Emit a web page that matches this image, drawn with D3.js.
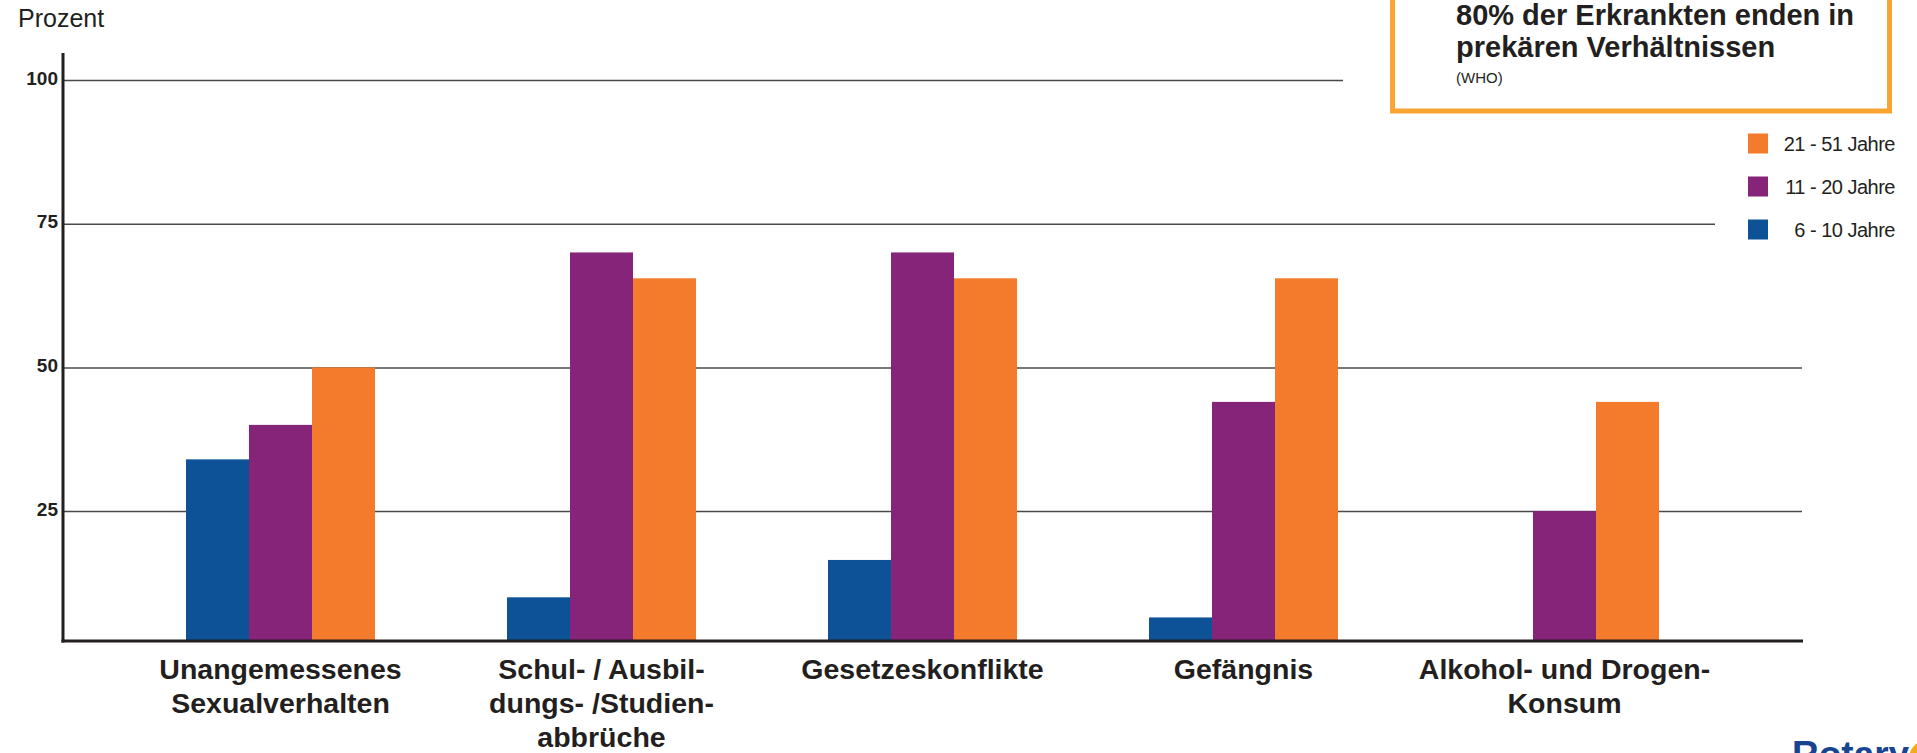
<!DOCTYPE html>
<html>
<head>
<meta charset="utf-8">
<script src="https://cdn.jsdelivr.net/npm/d3@7"></script>
<style>
    body { margin: 0; background: #fff; }
    svg { display: block; font-family: "Liberation Sans", Arial, sans-serif; }
    .tick text { font-weight: bold; font-size: 19px; fill: #231f20; }
</style>
</head>
<body>
<div id="chart"></div>
<script>
// data
var categories = [
    ["Unangemessenes", "Sexualverhalten"],
    ["Schul- / Ausbil-", "dungs- /Studien-", "abbrüche"],
    ["Gesetzeskonflikte"],
    ["Gefängnis"],
    ["Alkohol- und Drogen-", "Konsum"]
];
var seriesNames = ["6 - 10 Jahre", "11 - 20 Jahre", "21 - 51 Jahre"];
var age6to10 = [34, 10, 16.5, 6.5, 0];
var age11to20 = [40, 70, 70, 44, 25];
var age21to51 = [50, 65.5, 65.5, 65.5, 44];
var yTicks = [25, 50, 75, 100];
var noteLines = ["80% der Erkrankten enden in", "prekären Verhältnissen"];
var noteSource = "(WHO)";

var colors = ["#0d5196", "#852479", "#f47b2c"];

function drawChart() {
    let width = 1917;
    let height = 753;
    let left = 63;
    let right = 1802;
    let bottom = 641;
    let top = 80;

    var catKeys = categories.map(function (c) { return c.join(" "); });
    var allSeries = [age6to10, age11to20, age21to51];

    var rows = catKeys.map(function (k, i) {
        return {
            key: k,
            lines: categories[i],
            values: allSeries.map(function (s, j) {
                return { series: seriesNames[j], value: s[i], color: colors[j] };
            })
        };
    });

    var x0 = d3.scaleBand()
        .domain(catKeys)
        .range([57.6, 1787.4])
        .paddingInner(0.4112)
        .paddingOuter(0.4);

    var x1 = d3.scaleBand()
        .domain(seriesNames)
        .range([0, x0.bandwidth()]);

    // the original value axis starts a little above zero at the baseline
    var yScale = d3.scaleLinear()
        .domain([2.4, 100])
        .range([bottom, top]);

    var svg = d3.select("#chart")
        .append("svg")
        .attr("width", width)
        .attr("height", height);

    // gridlines
    svg.append("g")
        .attr("class", "grid")
        .attr("transform", "translate(" + left + ",0)")
        .call(d3.axisRight(yScale).tickValues(yTicks).tickSize(right - left).tickFormat(""))
        .call(function (g) { g.select(".domain").remove(); })
        .selectAll("line")
        .attr("stroke", "#4a4a4a")
        .attr("stroke-width", 1.5);

    // y tick labels
    svg.append("g")
        .attr("transform", "translate(" + (left - 5) + ",-2)")
        .call(d3.axisLeft(yScale).tickValues(yTicks).tickSize(0).tickPadding(0))
        .call(function (g) { g.select(".domain").remove(); });

    svg.append("text")
        .attr("x", 18)
        .attr("y", 27)
        .style("font-size", "25px")
        .attr("fill", "#231f20")
        .text("Prozent");

    // bars
    var groups = svg.selectAll(".group")
        .data(rows)
        .enter()
        .append("g")
        .attr("class", "group")
        .attr("transform", function (d) { return "translate(" + x0(d.key) + ",0)"; });

    groups.selectAll("rect")
        .data(function (d) { return d.values; })
        .enter()
        .append("rect")
        .attr("x", function (d) { return x1(d.series); })
        .attr("width", x1.bandwidth())
        .attr("y", function (d) { return Math.min(bottom, yScale(d.value)); })
        .attr("height", function (d) { return Math.max(0, bottom - yScale(d.value)); })
        .attr("fill", function (d) { return d.color; });

    // axes lines
    svg.append("line")
        .attr("x1", left).attr("x2", left)
        .attr("y1", 53).attr("y2", bottom + 1.5)
        .attr("stroke", "#231f20")
        .attr("stroke-width", 3);

    svg.append("line")
        .attr("x1", left - 1.5).attr("x2", right + 1)
        .attr("y1", bottom).attr("y2", bottom)
        .attr("stroke", "#231f20")
        .attr("stroke-width", 3);

    // category labels
    var labels = svg.selectAll(".xlabel")
        .data(rows)
        .enter()
        .append("text")
        .attr("class", "xlabel")
        .attr("text-anchor", "middle")
        .style("font-size", "28.5px")
        .style("font-weight", "bold")
        .attr("fill", "#231f20")
        .attr("transform", function (d) {
            return "translate(" + (x0(d.key) + x0.bandwidth() / 2) + "," + 679 + ")";
        });

    labels.selectAll("tspan")
        .data(function (d) { return d.lines; })
        .enter()
        .append("tspan")
        .attr("x", 0)
        .attr("y", function (d, i) { return i * 34; })
        .text(function (d) { return d; });

    // note box (white knock-out behind it)
    svg.append("rect")
        .attr("x", 1343).attr("y", 0)
        .attr("width", width - 1343).attr("height", 116)
        .attr("fill", "#fff");

    svg.append("rect")
        .attr("x", 1392.5).attr("y", -20)
        .attr("width", 497).attr("height", 131)
        .attr("fill", "#fff")
        .attr("stroke", "#f9a533")
        .attr("stroke-width", 5);

    svg.selectAll(".note")
        .data(noteLines)
        .enter()
        .append("text")
        .attr("class", "note")
        .attr("x", 1456)
        .attr("y", function (d, i) { return 24.5 + i * 32; })
        .style("font-size", "29px")
        .style("font-weight", "bold")
        .attr("fill", "#231f20")
        .text(function (d) { return d; });

    svg.append("text")
        .attr("x", 1456)
        .attr("y", 83)
        .style("font-size", "15px")
        .attr("fill", "#231f20")
        .text(noteSource);

    // legend
    svg.append("rect")
        .attr("x", 1715).attr("y", 120)
        .attr("width", width - 1715).attr("height", 130)
        .attr("fill", "#fff");

    var legendOrder = seriesNames.slice().reverse();
    var legend = svg.selectAll(".legend")
        .data(legendOrder)
        .enter()
        .append("g")
        .attr("class", "legend")
        .attr("transform", function (d, i) { return "translate(1748," + (143.5 + i * 43) + ")"; });

    legend.append("rect")
        .attr("x", 0).attr("y", -10)
        .attr("width", 20).attr("height", 20)
        .attr("fill", function (d) { return colors[seriesNames.indexOf(d)]; });

    legend.append("text")
        .attr("x", 147)
        .attr("dy", "0.35em")
        .attr("text-anchor", "end")
        .style("font-size", "20px")
        .style("letter-spacing", "-0.5px")
        .attr("fill", "#231f20")
        .text(function (d) { return d; });

    // logo, cut off at the bottom edge
    svg.append("text")
        .attr("x", 1792)
        .attr("y", 767)
        .style("font-size", "37px")
        .style("font-weight", "bold")
        .attr("fill", "#17458f")
        .text("Rotary");

    svg.append("circle")
        .attr("cx", 1926).attr("cy", 758)
        .attr("r", 17)
        .attr("fill", "#f7a81b");
}

drawChart();
</script>
</body>
</html>
